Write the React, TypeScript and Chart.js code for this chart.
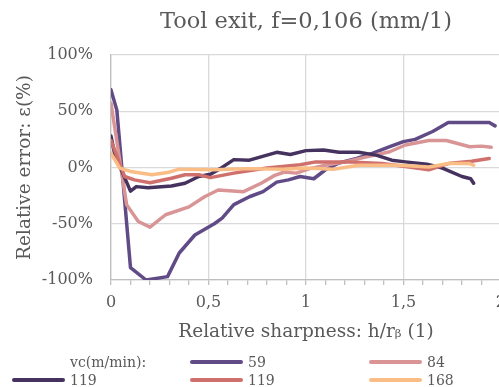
import React, { useEffect, useRef } from 'react';
import { Chart, registerables } from 'chart.js';

Chart.register(...registerables);

const titleText = 'Tool exit, f=0,106 (mm/1)';
const xTitle = 'Relative sharpness: h/rᵦ (1)';
const yTitle = 'Relative error: ε(%)';
const legendHeader = 'vc(m/min):';

// vc = 59 m/min
const x59 = [0, 0.03, 0.1, 0.18, 0.29, 0.35, 0.43, 0.53, 0.57, 0.63, 0.71, 0.78, 0.85, 0.91, 0.97, 1.04, 1.1, 1.17, 1.26, 1.34, 1.43, 1.5, 1.56, 1.65, 1.73, 1.94, 1.97];
const y59 = [69, 51, -89, -100, -97, -76, -60, -50, -45, -33, -26, -21.5, -13, -11, -8, -10, -2, 4, 8, 12.5, 18.5, 23, 25, 32, 40, 40, 37];

// vc = 84 m/min
const x84 = [0, 0.08, 0.14, 0.2, 0.28, 0.4, 0.48, 0.55, 0.68, 0.77, 0.84, 0.89, 0.95, 1.02, 1.1, 1.2, 1.3, 1.43, 1.51, 1.63, 1.72, 1.84, 1.9, 1.95];
const y84 = [57, -33, -48, -53, -42, -35, -26, -20, -21.5, -14, -7, -4, -5, -1, 2, 5, 9, 14, 20, 24, 24, 18.5, 19, 18];

// vc = 119 m/min (dark)
const x119a = [0, 0.02, 0.1, 0.13, 0.19, 0.31, 0.38, 0.45, 0.51, 0.56, 0.63, 0.71, 0.85, 0.92, 1.0, 1.09, 1.17, 1.27, 1.36, 1.44, 1.51, 1.62, 1.7, 1.8, 1.845, 1.86];
const y119a = [28, 11, -21, -17, -18, -16.5, -14, -8, -6, -1, 7, 6.5, 13.5, 11.5, 15, 15.5, 13.5, 13.5, 11, 6.5, 5, 3, -0.5, -8, -10, -14];

// vc = 119 m/min (red)
const x119b = [0, 0.07, 0.12, 0.2, 0.31, 0.38, 0.45, 0.51, 0.63, 0.8, 0.97, 1.05, 1.22, 1.39, 1.53, 1.63, 1.73, 1.85, 1.94];
const y119b = [24, -8, -11, -13.5, -9.5, -6.5, -6.5, -9, -5, -0.5, 2.5, 5, 5, 3.5, 0.5, -2, 3.5, 5.5, 8];

// vc = 168 m/min
const x168 = [0, 0.045, 0.1, 0.21, 0.29, 0.35, 0.53, 0.7, 0.88, 1.0, 1.14, 1.27, 1.48, 1.63, 1.73, 1.84, 1.86];
const y168 = [12.5, -0.5, -3.5, -6.5, -4.5, -1.5, -2, -1, -1.5, -0.5, -1.5, 2, 2, 0.5, 3.5, 3.5, 2];

const yTicks = [-100, -50, 0, 50, 100];

const FONT = 'DejaVu Serif';
const TEXT = '#595959';

const series = [
  { label: '59', xs: x59, ys: y59, color: '#604b86' },
  { label: '84', xs: x84, ys: y84, color: '#d99595' },
  { label: '119', xs: x119a, ys: y119a, color: '#46325e' },
  { label: '119', xs: x119b, ys: y119b, color: '#d0706c' },
  { label: '168', xs: x168, ys: y168, color: '#fbbd86' },
];

const legendItems = [
  { text: legendHeader, color: null as string | null, row: 0, col: 0 },
  { text: series[0].label, color: series[0].color, row: 0, col: 1 },
  { text: series[1].label, color: series[1].color, row: 0, col: 2 },
  { text: series[2].label, color: series[2].color, row: 1, col: 0 },
  { text: series[3].label, color: series[3].color, row: 1, col: 1 },
  { text: series[4].label, color: series[4].color, row: 1, col: 2 },
];

const isMajor = (v: number) => Math.abs(v * 2 - Math.round(v * 2)) < 1e-6;
const fmt = (v: number) => String(Math.round(v * 10) / 10).replace('.', ',');

export default function App() {
  const ref = useRef<HTMLCanvasElement>(null);

  useEffect(() => {
    const ctx = ref.current;
    if (!ctx) return;
    const datasets = series.map((s, i) => ({
      label: s.label,
      data: s.xs.map((x, k) => ({ x, y: s.ys[k] })),
      borderColor: s.color,
      backgroundColor: s.color,
      borderWidth: 3.5,
      borderCapStyle: 'round' as const,
      borderJoinStyle: 'round' as const,
      pointRadius: 0,
      tension: 0,
      fill: false,
      order: series.length - i,
    }));
    const chart = new Chart(ctx, {
      type: 'line',
      data: { datasets },
      options: {
        animation: false,
        responsive: false,
        maintainAspectRatio: false,
        layout: { padding: { left: 8, right: 8, top: 0, bottom: 42 } },
        plugins: {
          legend: { display: false },
          tooltip: { enabled: false },
          title: {
            display: true,
            text: titleText,
            fullSize: false,
            color: TEXT,
            font: { family: FONT, size: 22.5, weight: 'normal' },
            padding: { top: 9, bottom: 19 },
          },
        },
        scales: {
          x: {
            type: 'linear',
            min: 0,
            max: 2,
            afterFit: (scale: any) => {
              scale.height = 65;
            },
            ticks: {
              stepSize: 0.1,
              autoSkip: false,
              maxRotation: 0,
              minRotation: 0,
              color: TEXT,
              font: { family: FONT, size: 16 },
              padding: 8,
              callback: (v: any) => (isMajor(Number(v)) ? fmt(Number(v)) : ''),
            },
            grid: {
              color: (c: any) => (c.tick && isMajor(c.tick.value) ? '#d9d9d9' : 'rgba(0,0,0,0)'),
              lineWidth: 1.3,
              tickColor: '#bfbfbf',
              tickLength: 5,
            },
            border: { color: '#bfbfbf', width: 1.3 },
            title: {
              display: true,
              text: xTitle,
              color: TEXT,
              font: { family: FONT, size: 18.5 },
              padding: { top: 14, bottom: 2 },
            },
          },
          y: {
            min: -100,
            max: 100,
            afterBuildTicks: (scale: any) => {
              scale.ticks = yTicks.map((v) => ({ value: v }));
            },
            afterFit: (scale: any) => {
              scale.width = 103;
            },
            ticks: {
              color: TEXT,
              font: { family: FONT, size: 16 },
              padding: 18,
              callback: (v: any) => `${v}%`,
            },
            grid: { color: '#d9d9d9', lineWidth: 1.3, drawTicks: false },
            border: { color: '#bfbfbf', width: 1.3 },
            title: {
              display: true,
              text: yTitle,
              color: TEXT,
              font: { family: FONT, size: 18.5 },
              padding: { top: 6, bottom: 4 },
            },
          },
        },
      },
    });
    return () => chart.destroy();
  }, []);

  const colX = [12, 190, 369];
  const rowY = [362, 380];

  return (
    <div style={{ position: 'absolute', left: 0, top: 0, width: 499, height: 387, overflow: 'hidden', background: '#fff' }}>
      <canvas ref={ref} width={514} height={387} style={{ position: 'absolute', left: 0, top: 0, width: 514, height: 387 }} />
      {legendItems.map((it, i) => (
        <div key={i} style={{ position: 'absolute', left: colX[it.col], top: rowY[it.row] - 10, height: 20, display: 'flex', alignItems: 'center', fontFamily: FONT, fontSize: 14, color: TEXT, whiteSpace: 'nowrap' }}>
          <span style={{ display: 'inline-block', width: 53, height: 4, borderRadius: 2, background: it.color ?? 'transparent', marginRight: 5 }} />
          <span>{it.text}</span>
        </div>
      ))}
    </div>
  );
}
